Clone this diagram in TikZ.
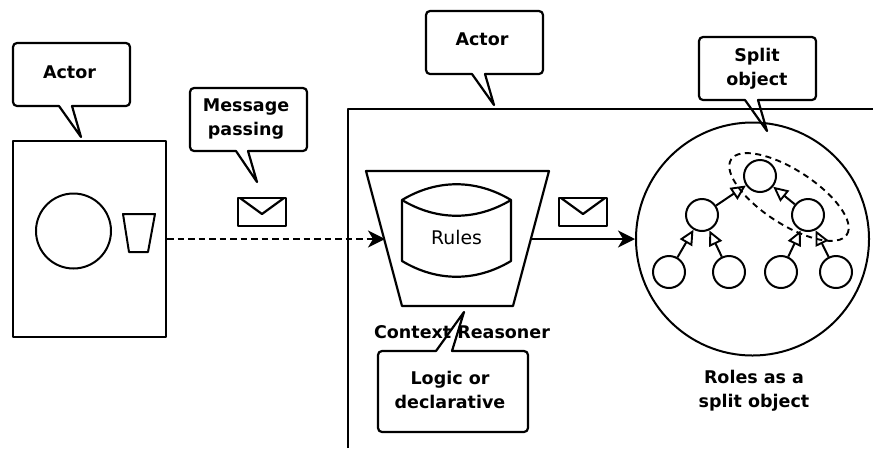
\documentclass[tikz,border=0pt]{standalone}
\usepackage{fontspec}
\setmainfont{DejaVu Sans}
\usetikzlibrary{arrows.meta,shapes.geometric}
\tikzset{
    line/.style={line width=2.2pt,line join=round},
    bubbletext/.style={font=\fontsize{17.5}{24}\selectfont\bfseries,align=center,inner sep=0pt},
    objnode/.style={draw,line width=2pt,circle,inner sep=0pt,minimum size=32pt},
    inherit/.style={line width=2pt,-{Triangle[open,length=15pt,width=14pt,line width=1.9pt]}},
    message/.style={line width=2.2pt,-{Stealth[length=17pt,width=17pt,inset=5pt]}}
}
% x1, y1, x2, y2, left foot, tip, right foot
\newcommand{\bubble}[7]{
    \draw[line,rounded corners=4pt] (#1,#2) -- (#3,#2) -- (#3,#4) [sharp corners] -- (#7,#4)
        -- (#6) -- (#5,#4) [rounded corners=4pt] -- (#1,#4) -- cycle;
}
% same, with the tail on the upper edge
\newcommand{\bubbleup}[7]{
    \draw[line,rounded corners=4pt] (#1,#4) -- (#1,#2) [sharp corners] -- (#5,#2)
        -- (#6) -- (#7,#2) [rounded corners=4pt] -- (#3,#2) -- (#3,#4) -- cycle;
}
\newcommand{\envelope}[2]{
    \draw[line] (#1,#2) rectangle ++(48,28);
    \draw[line] (#1+2,#2) -- ++(22,16) -- ++(22,-16);
}
\begin{document}
\begin{tikzpicture}[x=1pt,y=-1pt]
    \useasboundingbox (0,0) rectangle (873,448);
    \fill[white] (0,0) rectangle (873,448);

    % left actor
    \node[draw,line,minimum width=153pt,minimum height=196pt,inner sep=0pt] (actorA) at (89.5,239) {};
    \node[draw,line width=2pt,circle,inner sep=0pt,minimum size=75pt] (state) at (73.5,231) {};
    \draw[line,line width=2pt] (123,214) -- (155,214) -- (148,252) -- (129,252) -- cycle;

    % right actor
    \draw[line] (348,448) -- (348,109) -- (873,109);
    \draw[line] (366,171) -- (549,171) -- (513,306) -- (402,306) -- cycle;
    \coordinate (reasonerin) at (385,239);
    \coordinate (reasonerout) at (531,239);
    \draw[line] (402,200) .. controls (437,179) and (476,179) .. (511,200)
        -- (511,261) .. controls (476,282) and (437,282) .. (402,261) -- cycle;
    \draw[line] (402,200) .. controls (437,221) and (476,221) .. (511,200);
    \node[font=\fontsize{18.8}{22}\selectfont,inner sep=0pt] (rules) at (456.5,237) {Rules};
    \node[bubbletext] (reasonerlabel) at (462,332) {Context Reasoner};

    % role object
    \node[draw,line width=2pt,circle,inner sep=0pt,minimum size=233pt] (roles) at (752.5,239) {};
    \node[objnode] (top) at (760,176) {};
    \node[objnode] (left) at (702,215) {};
    \node[objnode] (right) at (808,215) {};
    \foreach \name/\x in {la/669, lb/729, ra/781, rb/836} {
        \node[objnode] (\name) at (\x,272) {};
    }
    \foreach \from/\to in {left/top, right/top, la/left, lb/left, ra/right, rb/right} {
        \draw[inherit] (\from) -- (\to);
    }
    \node[draw,ellipse,line width=1.9pt,dash pattern=on 6pt off 4.5pt,rotate=-33,inner sep=0pt,
        minimum width=138pt,minimum height=54pt] (split) at (789,197) {};
    \node[bubbletext] (roleslabel) at (754,391) {Roles as a\\split object};

    % messages
    \draw[message,dash pattern=on 6.5pt off 4pt] (actorA) -- (reasonerin);
    \draw[message] (reasonerout) -- (roles);
    \envelope{238}{198}
    \envelope{559}{198}

    % speech bubbles
    \bubble{13}{43}{130}{106}{59}{81,137}{72}
    \node[bubbletext] (actorAtext) at (69.5,72) {Actor};
    \bubble{190}{88}{307}{151}{236}{257,182}{248}
    \node[bubbletext] (passing) at (246,119.5) {Message\\passing};
    \bubble{426}{11}{543}{74}{472}{494,105}{485}
    \node[bubbletext] (actorBtext) at (482,39) {Actor};
    \bubble{699}{37}{816}{100}{745}{767,131}{758}
    \node[bubbletext] (splittext) at (757,69) {Split\\object};
    \bubbleup{378}{351}{528}{432}{436}{464,312}{452}
    \node[bubbletext] (logic) at (450,389.5) {Logic or\\declarative};
\end{tikzpicture}
\end{document}
